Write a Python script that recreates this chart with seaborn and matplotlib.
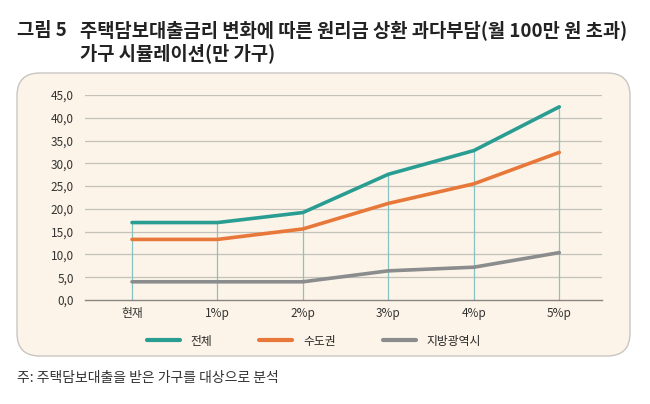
import pandas as pd
import matplotlib.pyplot as plt
import seaborn as sns
from matplotlib.patches import FancyBboxPatch
from matplotlib.ticker import FuncFormatter

# Data (만 가구)
scenarios = ['현재', '1%p', '2%p', '3%p', '4%p', '5%p']
total = [17.0, 17.0, 19.2, 27.6, 32.8, 42.4]
capital = [13.3, 13.3, 15.6, 21.2, 25.5, 32.4]
metro = [4.0, 4.0, 4.0, 6.4, 7.2, 10.4]
series_names = ['전체', '수도권', '지방광역시']
colors = ['#2A9D93', '#E8773A', '#8A8C8E']

df = pd.DataFrame({
    'x': list(range(len(scenarios))) * 3,
    'value': total + capital + metro,
    'series': [s for s in series_names for _ in scenarios],
})

sns.set_style('white')
plt.rcParams['font.family'] = ['Noto Sans CJK KR', 'DejaVu Sans']

fig = plt.figure(figsize=(6.5, 4.04), dpi=100)
bg = '#FCF4E8'

# Rounded panel behind the chart
panel = FancyBboxPatch((17 / 650, 1 - 356 / 404), 613 / 650, 283 / 404,
                       boxstyle='round,pad=0,rounding_size=0.035',
                       transform=fig.transFigure, facecolor=bg,
                       edgecolor='#C8C6C2', linewidth=1.0, zorder=-1,
                       mutation_aspect=650 / 404)
fig.patches.append(panel)

ax = fig.add_axes([85 / 650, 1 - 300 / 404, 517 / 650, 205 / 404])
ax.set_facecolor('none')

# Horizontal grid
for v in range(5, 50, 5):
    ax.axhline(v, color='#C4C0BA', linewidth=0.9, zorder=1)

# Vertical drop lines at each category
ax.vlines(range(len(scenarios)), 0, total, color='#86C4C4', linewidth=0.9, zorder=1)

sns.lineplot(data=df, x='x', y='value', hue='series', palette=colors,
             linewidth=2.6, ax=ax, legend=False, zorder=3)

ax.set_xlim(-0.55, 5.5)
ax.set_ylim(0, 45)
ax.set_yticks(range(0, 50, 5))
ax.yaxis.set_major_formatter(FuncFormatter(lambda v, p: f'{v:.1f}'.replace('.', ',')))
ax.set_xticks(range(len(scenarios)))
ax.set_xticklabels(scenarios)
ax.tick_params(axis='both', length=0, labelsize=8.5, colors='#333333')
ax.tick_params(axis='x', pad=5)
ax.tick_params(axis='y', pad=8)
for s in ['top', 'right', 'left']:
    ax.spines[s].set_visible(False)
ax.spines['bottom'].set_color('#8A8580')
ax.spines['bottom'].set_linewidth(1.0)
ax.set_xlabel('')
ax.set_ylabel('')

# Legend
handles = [plt.Line2D([], [], color=c, linewidth=3) for c in colors]
fig.legend(handles, series_names, loc='center left', bbox_to_anchor=(136 / 650, 1 - 341 / 404),
           ncol=3, frameon=False, fontsize=8.5, handlelength=2.8,
           handletextpad=0.9, columnspacing=4.0,
           prop={'size': 8.5, 'weight': 'medium'})

# Title and footnote
fig.text(17 / 650, 1 - 30 / 404, '그림 5', fontsize=13.5, fontweight='bold',
         va='center', color='#222222')
fig.text(80 / 650, 1 - 30 / 404, '주택담보대출금리 변화에 따른 원리금 상환 과다부담(월 100만 원 초과)',
         fontsize=13.5, fontweight='bold', va='center', color='#222222')
fig.text(80 / 650, 1 - 53 / 404, '가구 시뮬레이션(만 가구)',
         fontsize=13.5, fontweight='bold', va='center', color='#222222')
fig.text(17 / 650, 1 - 378 / 404, '주: 주택담보대출을 받은 가구를 대상으로 분석',
         fontsize=10, va='center', color='#333333')

fig.savefig('out.png', dpi=100, facecolor='white')
